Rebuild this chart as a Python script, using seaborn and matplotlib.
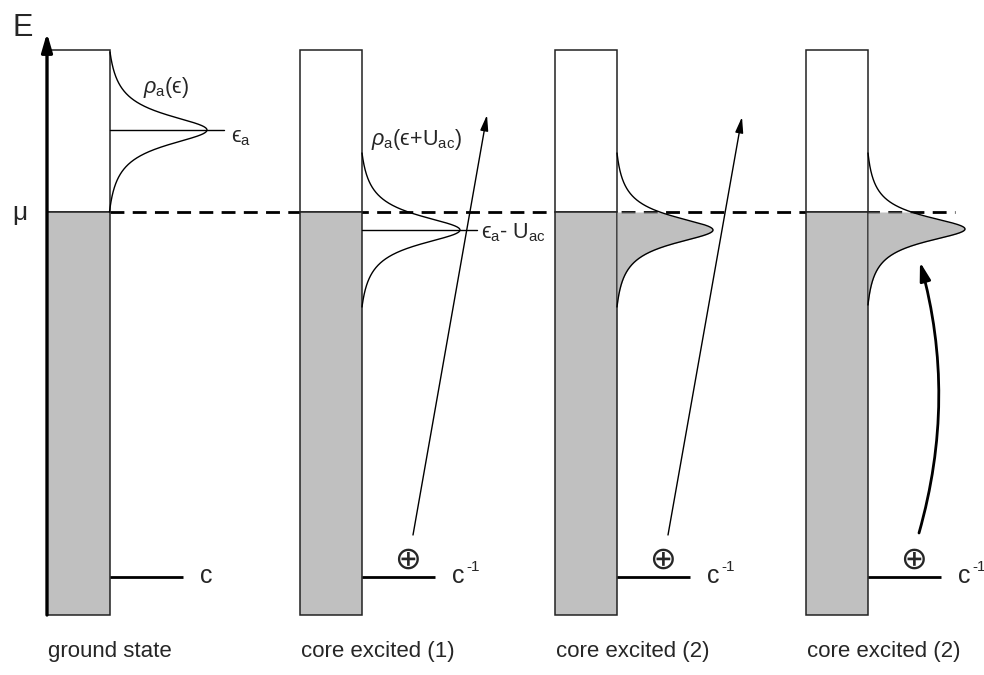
import numpy as np
import matplotlib
matplotlib.use("Agg")
import matplotlib.pyplot as plt
import seaborn as sns
from matplotlib.patches import Rectangle, FancyArrowPatch

sns.set_theme(style="white")
plt.rcParams["font.family"] = ["Liberation Sans", "DejaVu Sans"]
plt.rcParams["mathtext.fontset"] = "custom"
plt.rcParams["mathtext.rm"] = "Liberation Sans"
plt.rcParams["mathtext.it"] = "Liberation Sans:italic"
plt.rcParams["mathtext.fallback"] = "stixsans"

EPS = "\u03f5"  # lunate epsilon

# ---- scheme data (drawing units, energy axis points downward on the page) ----
panel_left = [47, 300, 555, 806]
panel_right = [110, 362, 617, 868]
panel_titles = ["ground state", "core excited (1)", "core excited (2)", "core excited (2)"]
box_top = 50
box_bottom = 615
mu_level = 212
core_level = 577
core_length = 73
core_labels = ["c", "c", "c", "c"]
core_superscripts = ["", "-1", "-1", "-1"]
core_hole = [False, True, True, True]

# adsorbate resonance (Lorentzian) per panel
res_center = [130, 230, 230, 229]
res_height = [97, 98, 96, 97]
res_halfspan = [78, 77, 77, 76]
res_gamma = [19, 18, 17, 16]
res_filled = [False, False, True, True]

# excitation arrows: (x_start, y_start, x_end, y_end)
straight_arrows = [(413, 535, 487, 115), (668, 535, 742, 117)]
curved_arrow = (919, 533, 920, 262)

GRAY = "#c0c0c0"
EDGE = "#222222"

fig = plt.figure(figsize=(9.84, 6.75), dpi=100)
ax = fig.add_axes([0, 0, 1, 1])

# Fermi level, dashed between the boxes
ax.plot([panel_right[0], 955], [mu_level, mu_level], color="black", lw=2,
        ls=(0, (5, 3)), zorder=1)

for i in range(4):
    x0, x1 = panel_left[i], panel_right[i]
    # empty states
    ax.add_patch(Rectangle((x0, box_top), x1 - x0, mu_level - box_top,
                           facecolor="white", edgecolor=EDGE, lw=1.1, zorder=2))
    # occupied band
    ax.add_patch(Rectangle((x0, mu_level), x1 - x0, box_bottom - mu_level,
                           facecolor=GRAY, edgecolor=EDGE, lw=1.1, zorder=2))

    # resonance curve
    c, A, h, g = res_center[i], res_height[i], res_halfspan[i], res_gamma[i]
    y = np.linspace(c - h, c + h, 601)
    y = np.sort(np.append(y, mu_level))
    lor = 1.0 / (1.0 + ((y - c) / g) ** 2)
    lor_end = 1.0 / (1.0 + (h / g) ** 2)
    x = x1 + A * (lor - lor_end) / (1.0 - lor_end)
    if res_filled[i]:
        m = y >= mu_level
        ax.fill_betweenx(y[m], x1, x[m], color="#b0b0b0", alpha=0.8, lw=0, zorder=3)
    sns.lineplot(x=x, y=y, sort=False, estimator=None, color="black", lw=1.0,
                 ax=ax, zorder=4)

    # core level
    ax.plot([x1, x1 + core_length], [core_level, core_level], color="black",
            lw=2, zorder=4, solid_capstyle="butt")
    xl = x1 + core_length + 17
    ax.text(xl, core_level + 6, core_labels[i], fontsize=18,
            ha="left", va="baseline", zorder=5)
    if core_superscripts[i]:
        ax.text(xl + 14, core_level - 6, core_superscripts[i], fontsize=11,
                ha="left", va="baseline", zorder=5)
    if core_hole[i]:
        ax.text(x1 + 46, core_level - 17, "\u2295", fontsize=23,
                family=["DejaVu Sans"], ha="center", va="center", zorder=5)

    ax.text(x0 + 1, 652, panel_titles[i], fontsize=16, ha="left", va="center")

# ground-state resonance level marker
ax.plot([panel_right[0], panel_right[0] + 114], [res_center[0], res_center[0]],
        color="black", lw=1.0, zorder=4)
ax.text(231, 142, EPS + r"$_{\mathrm{a}}$", fontsize=15.5, ha="left", va="baseline")
ax.text(143, 93, r"$\rho_{\mathrm{a}}$(" + EPS + ")", fontsize=15.5, ha="left",
        va="baseline")

# shifted resonance in the first core-excited state
ax.plot([panel_right[1], panel_right[1] + 115], [res_center[1], res_center[1]],
        color="black", lw=1.0, zorder=4)
ax.text(481, 238, EPS + r"$_{\mathrm{a}}$- U$_{\mathrm{ac}}$", fontsize=15.5,
        ha="left", va="baseline")
ax.text(371, 145, r"$\rho_{\mathrm{a}}$(" + EPS + r"+U$_{\mathrm{ac}}$)", fontsize=15.5,
        ha="left", va="baseline")

# energy axis
ax.annotate("", xy=(47, 33), xytext=(47, box_bottom),
            arrowprops=dict(arrowstyle="-|>,head_length=0.55,head_width=0.16",
                            mutation_scale=20, lw=2.4, color="black",
                            shrinkA=0, shrinkB=0), zorder=6)
ax.text(23, 28, "E", fontsize=22, ha="center", va="center")
ax.text(20, 213, "\u03bc", fontsize=19, ha="center", va="center")

# excitation arrows
for xs, ys, xe, ye in straight_arrows:
    ax.add_patch(FancyArrowPatch((xs, ys), (xe, ye),
                                 arrowstyle="-|>,head_length=0.47,head_width=0.12",
                                 mutation_scale=20, lw=1.0, color="black",
                                 shrinkA=0, shrinkB=0, zorder=6))
xs, ys, xe, ye = curved_arrow
ax.add_patch(FancyArrowPatch((xs, ys), (xe, ye), connectionstyle="arc3,rad=0.14",
                             arrowstyle="-|>,head_length=0.55,head_width=0.16",
                             mutation_scale=20, lw=2.0, color="black",
                             shrinkA=0, shrinkB=0, zorder=6))

ax.set_xlim(0, 984)
ax.set_ylim(675, 0)
ax.axis("off")
fig.savefig("out.png", dpi=100)
